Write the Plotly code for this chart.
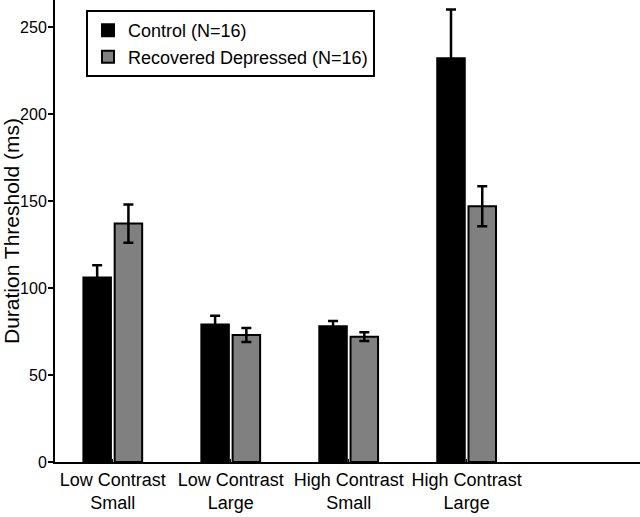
import plotly.graph_objects as go

categories = ["Low Contrast<br>Small", "Low Contrast<br>Large", "High Contrast<br>Small", "High Contrast<br>Large"]
control = [106, 79, 78, 232]
control_err = [7, 5, 3, 28]
depressed = [137, 73, 72, 147]
depressed_err = [11, 4, 2.5, 11.5]
y_ticks = [0, 50, 100, 150, 200, 250]

FONT = "Liberation Sans, Arial, Helvetica"

fig = go.Figure()
fig.add_trace(go.Bar(
    x=categories, y=control, name="Control (N=16)",
    marker=dict(color="black", line=dict(color="black", width=2)),
    error_y=dict(type="data", array=control_err, symmetric=True, color="black", thickness=2.5, width=5),
))
fig.add_trace(go.Bar(
    x=categories, y=depressed, name="Recovered Depressed (N=16)",
    marker=dict(color="#808080", line=dict(color="black", width=2)),
    error_y=dict(type="data", array=depressed_err, symmetric=True, color="black", thickness=2.5, width=5),
))

fig.update_layout(
    width=640, height=517,
    margin=dict(l=55, r=0, t=0, b=55),
    paper_bgcolor="white", plot_bgcolor="white",
    barmode="group", bargap=0.47, bargroupgap=0.12,
    font=dict(family=FONT, size=18, color="black"),
    showlegend=True,
    legend=dict(
        x=0.053, y=0.978, xanchor="left", yanchor="top",
        bordercolor="black", borderwidth=2, bgcolor="white",
        font=dict(family=FONT, size=18, color="black"),
        tracegroupgap=0, itemsizing="constant",
    ),
    xaxis=dict(
        range=[-0.49, 4.47], showline=True, linecolor="black", linewidth=2,
        ticks="inside", ticklen=3, tickcolor="black", tickwidth=1,
        tickangle=0, automargin=False,
        tickfont=dict(family=FONT, size=18, color="black"),
        showgrid=False, zeroline=False,
    ),
    yaxis=dict(
        range=[0, 265.5], tickvals=y_ticks, showline=True, linecolor="black", linewidth=2,
        ticks="outside", ticklen=5, tickcolor="black", tickwidth=2,
        ticklabelstandoff=-2,
        automargin=False,
        tickfont=dict(family=FONT, size=16, color="black"),
        showgrid=False, zeroline=False,
        title=dict(text="Duration Threshold (ms)", standoff=2,
                   font=dict(family=FONT, size=21, color="black")),
    ),
)

fig.write_html(
    "out.html",
    config={"displayModeBar": False},
    post_script="document.body.style.margin='0';document.body.style.padding='0';",
)
